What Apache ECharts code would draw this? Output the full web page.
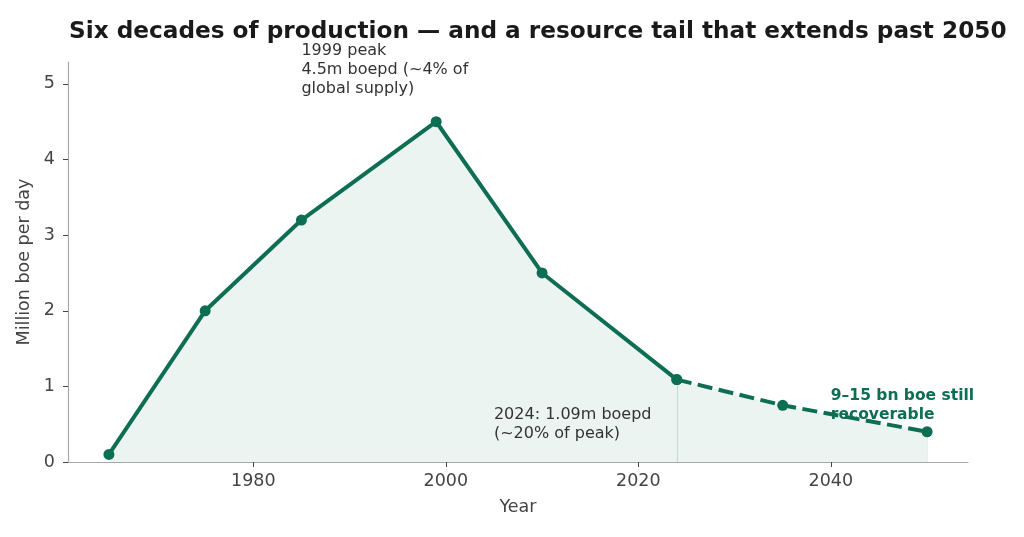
<!DOCTYPE html>
<html>
<head>
<meta charset="utf-8">
<script src="https://cdn.jsdelivr.net/npm/echarts@6/dist/echarts.min.js"></script>
<style>
  html, body { margin: 0; padding: 0; background: #fff; }
  #chart { width: 1024px; height: 537px; }
</style>
</head>
<body>
<div id="chart"></div>
<script>
// historical output and projection (million boe per day)
var histYears = [1965, 1975, 1985, 1999, 2010, 2024];
var histValues = [0.1, 2.0, 3.2, 4.5, 2.5, 1.09];
var projYears = [2024, 2035, 2050];
var projValues = [1.09, 0.75, 0.4];
var xTicks = [1980, 2000, 2020, 2040];
var yTicks = [0, 1, 2, 3, 4, 5];

var green = '#0d6e53';
var font = 'DejaVu Sans';

var chart = echarts.init(document.getElementById('chart'));

function pairs(xs, ys) {
    return xs.map(function (x, i) { return [x, ys[i]]; });
}

option = {
    animation: false,
    textStyle: { fontFamily: font },
    title: {
        text: 'Six decades of production \u2014 and a resource tail that extends past 2050',
        left: 64,
        top: 15,
        textStyle: { fontSize: 23.2, fontWeight: 'bold', color: '#1a1a1a', fontFamily: font }
    },
    grid: { left: 68, right: 56, top: 62, bottom: 75 },
    xAxis: {
        type: 'value',
        min: 1960.75,
        max: 2054.25,
        name: 'Year',
        nameLocation: 'middle',
        nameGap: 36,
        nameTextStyle: { fontSize: 17.5, color: '#444', fontFamily: font },
        axisLine: { lineStyle: { color: '#a8a8a8', width: 1.2 } },
        axisTick: { show: true, length: 5, lineStyle: { color: '#444' }, customValues: xTicks },
        axisLabel: {
            fontSize: 17.5, color: '#444', margin: 10, customValues: xTicks,
            formatter: function (v) { return String(v); }
        },
        splitLine: { show: false }
    },
    yAxis: {
        type: 'value',
        min: 0,
        max: 5.29,
        name: 'Million boe per day',
        nameLocation: 'middle',
        nameGap: 30,
        nameTextStyle: { fontSize: 17.5, color: '#444', fontFamily: font },
        axisLine: { show: true, lineStyle: { color: '#a8a8a8', width: 1.2 } },
        axisTick: { show: true, length: 5, lineStyle: { color: '#444' }, customValues: yTicks },
        axisLabel: {
            fontSize: 17.5, color: '#444', margin: 13, customValues: yTicks,
            formatter: function (v) { return String(v); }
        },
        splitLine: { show: false }
    },
    series: [
        {
            name: 'Historical',
            type: 'line',
            data: pairs(histYears, histValues),
            symbol: 'circle',
            symbolSize: 11,
            itemStyle: { color: green },
            lineStyle: { color: green, width: 4 },
            areaStyle: { color: green, opacity: 0.08 },
            markLine: {
                symbol: 'none',
                silent: true,
                label: { show: false },
                lineStyle: { color: green, opacity: 0.18, width: 1.2, type: 'solid' },
                data: [[
                    { coord: [histYears[histYears.length - 1], 0] },
                    { coord: [histYears[histYears.length - 1], histValues[histValues.length - 1]] }
                ]]
            },
            z: 3
        },
        {
            name: 'Projection',
            type: 'line',
            data: pairs(projYears, projValues),
            symbol: 'circle',
            symbolSize: 11,
            itemStyle: { color: green },
            lineStyle: { color: green, width: 4, type: [15, 6.5] },
            areaStyle: { color: green, opacity: 0.08 },
            markLine: {
                symbol: 'none',
                silent: true,
                label: { show: false },
                lineStyle: { color: green, opacity: 0.1, width: 1.2, type: 'solid' },
                data: [[
                    { coord: [projYears[projYears.length - 1], 0] },
                    { coord: [projYears[projYears.length - 1], projValues[projValues.length - 1]] }
                ]]
            },
            z: 3
        }
    ]
};

chart.setOption(option);

// annotations placed at data positions
var notes = [
    { at: [1985, 5.56], text: '1999 peak\n4.5m boepd (~4% of\nglobal supply)', color: '#333', weight: 'normal', size: 16 },
    { at: [2005, 0.75], text: '2024: 1.09m boepd\n(~20% of peak)', color: '#333', weight: 'normal', size: 16 },
    { at: [2040, 1.00], text: '9\u201315 bn boe still\nrecoverable', color: green, weight: 'bold', size: 15.5 }
];

chart.setOption({
    graphic: notes.map(function (n) {
        var p = chart.convertToPixel({ gridIndex: 0 }, n.at);
        return {
            type: 'text',
            x: p[0],
            y: p[1],
            z: 10,
            style: {
                text: n.text,
                fill: n.color,
                font: n.weight + ' ' + n.size + 'px "' + font + '"',
                lineHeight: 19,
                align: 'left',
                verticalAlign: 'top'
            }
        };
    })
});
</script>
</body>
</html>
